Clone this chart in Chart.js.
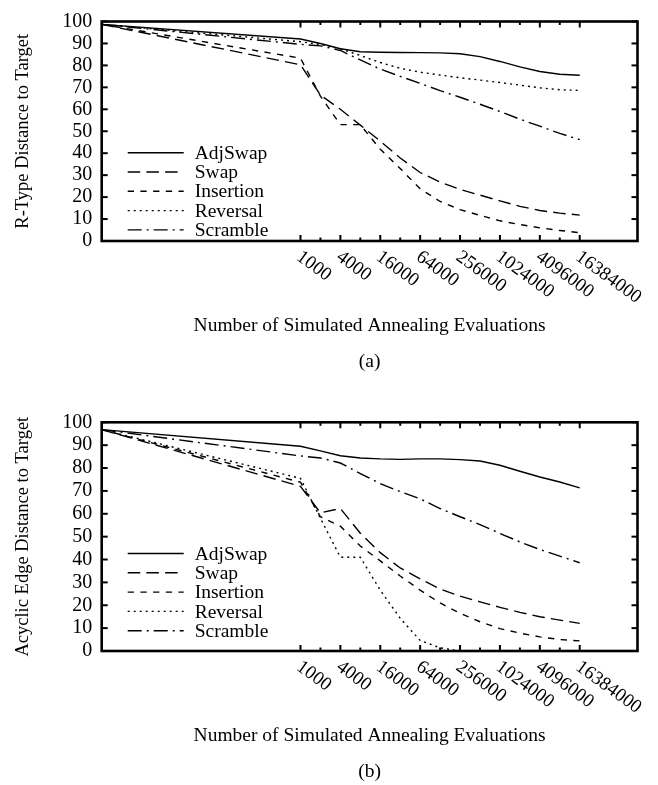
<!DOCTYPE html>
<html>
<head>
<meta charset="utf-8">
<script src="https://cdn.jsdelivr.net/npm/chart.js@4.4.1/dist/chart.umd.min.js"></script>
<style>
  html, body { margin: 0; padding: 0; background: #fff; }
  .panel { position: relative; width: 658px; }
  #panelA { height: 392px; }
  #panelB { height: 393px; }
</style>
</head>
<body>
<div class="panel" id="panelA"><canvas id="chartA"></canvas></div>
<div class="panel" id="panelB"><canvas id="chartB"></canvas></div>
<script>
const evaluations = [1, 1000, 2000, 4000, 8000, 16000, 32000, 64000, 128000, 256000, 512000, 1024000, 2048000, 4096000, 8192000, 16384000];
const xTickLabels = [1000, 4000, 16000, 64000, 256000, 1024000, 4096000, 16384000];
const xMinorTicks = [2000, 8000, 32000, 128000, 512000, 2048000, 8192000];
const yTicks = [0, 10, 20, 30, 40, 50, 60, 70, 80, 90, 100];
const operators = ['AdjSwap', 'Swap', 'Insertion', 'Reversal', 'Scramble'];

// (a) R-Type distance to target
const rtAdjSwap   = [98.7, 92.0, 90.0, 87.6, 86.2, 86.0, 85.9, 85.8, 85.7, 85.3, 84.0, 81.8, 79.3, 77.2, 76.0, 75.5];
const rtSwap      = [98.7, 80.3, 66.5, 60.0, 52.8, 45.5, 37.8, 31.2, 26.8, 23.5, 20.9, 18.3, 15.8, 13.9, 12.7, 11.8];
const rtInsertion = [98.7, 83.3, 66.0, 53.0, 53.0, 41.8, 33.0, 23.8, 18.0, 14.3, 11.7, 9.2, 7.5, 6.0, 4.8, 3.8];
const rtReversal  = [98.7, 90.8, 89.5, 87.6, 84.5, 81.3, 78.7, 76.9, 75.6, 74.4, 73.3, 72.2, 71.0, 69.8, 68.9, 68.6];
const rtScramble  = [98.7, 89.6, 88.9, 86.8, 82.5, 78.3, 75.0, 71.8, 68.5, 65.5, 62.3, 59.0, 55.5, 52.3, 49.0, 46.2];

// (b) Acyclic edge distance to target
const acAdjSwap   = [96.8, 89.5, 87.5, 85.4, 84.4, 84.0, 83.8, 84.0, 84.0, 83.7, 83.1, 81.2, 78.6, 76.1, 73.9, 71.3];
const acSwap      = [96.8, 72.0, 60.4, 62.3, 51.5, 43.0, 36.3, 31.5, 27.1, 24.0, 21.5, 19.1, 16.9, 15.0, 13.5, 12.1];
const acInsertion = [96.8, 73.8, 58.7, 54.6, 45.9, 39.4, 32.8, 26.6, 21.0, 16.5, 12.8, 9.8, 7.8, 6.2, 5.0, 4.4];
const acReversal  = [96.8, 75.5, 58.0, 41.0, 41.0, 26.6, 14.3, 4.6, 1.4, 0, 0, 0, 0, 0, 0, 0];
const acScramble  = [96.8, 85.3, 84.4, 82.2, 77.6, 73.2, 69.7, 66.5, 62.3, 58.7, 55.3, 51.4, 47.7, 44.4, 41.5, 38.6];

const dashes = {
    AdjSwap: [],
    Swap: [12.5, 6.2],
    Insertion: [6.3, 6.4],
    Reversal: [2, 4],
    Scramble: [14, 5, 2, 5]
};

const serif = '"Liberation Serif", "Times New Roman", serif';

// frame, inward ticks, rotated x labels, key and caption (gnuplot look)
const gnuplotFrame = {
    id: 'gnuplotFrame',
    afterDatasetsDraw(chart, args, opts) {
        const ctx = chart.ctx;
        const a = chart.chartArea;
        const x = chart.scales.x;
        const y = chart.scales.y;
        ctx.save();

        // key
        ctx.font = '19.5px ' + serif;
        ctx.fillStyle = '#000';
        ctx.textAlign = 'left';
        ctx.textBaseline = 'middle';
        chart.data.datasets.forEach((ds, i) => {
            const ly = a.top + 131.2 + i * 19.3;
            ctx.strokeStyle = '#000';
            ctx.lineWidth = ds.borderWidth;
            ctx.setLineDash(ds.borderDash);
            ctx.beginPath();
            ctx.moveTo(a.left + 26, ly);
            ctx.lineTo(a.left + 82, ly);
            ctx.stroke();
            ctx.fillText(ds.label, a.left + 93, ly + 1);
        });
        ctx.setLineDash([]);

        // ticks on all four sides
        const tick = (x1, y1, x2, y2) => {
            ctx.beginPath();
            ctx.moveTo(x1, y1);
            ctx.lineTo(x2, y2);
            ctx.stroke();
        };
        ctx.lineWidth = 2;
        xTickLabels.forEach(v => {
            const px = x.getPixelForValue(v);
            tick(px, a.bottom, px, a.bottom - 6);
            tick(px, a.top, px, a.top + 6);
        });
        xMinorTicks.forEach(v => {
            const px = x.getPixelForValue(v);
            tick(px, a.bottom, px, a.bottom - 3.5);
            tick(px, a.top, px, a.top + 3.5);
        });
        yTicks.forEach(v => {
            const py = y.getPixelForValue(v);
            tick(a.left, py, a.left + 6, py);
            tick(a.right, py, a.right - 6, py);
        });

        ctx.lineWidth = 2.6;
        ctx.strokeRect(a.left, a.top, a.right - a.left, a.bottom - a.top);

        // slanted x tick labels
        ctx.font = '19px ' + serif;
        ctx.textAlign = 'left';
        ctx.textBaseline = 'middle';
        xTickLabels.forEach(v => {
            const px = x.getPixelForValue(v);
            ctx.save();
            ctx.translate(px - 2, a.bottom + 14);
            ctx.rotate(36 * Math.PI / 180);
            ctx.fillText(String(v), 0, 0);
            ctx.restore();
        });

        // panel caption
        ctx.font = '19.5px ' + serif;
        ctx.textAlign = 'center';
        ctx.fillText(opts.caption, (a.left + a.right) / 2, a.bottom + 121);
        ctx.restore();
    }
};

function makePanel(canvasId, yTitle, caption, series, padding) {
    const datasets = operators.map((name, i) => ({
        label: name,
        data: evaluations.map((e, j) => ({ x: e, y: series[i][j] })),
        borderColor: '#000',
        borderWidth: 1.4,
        borderDash: dashes[name],
        pointRadius: 0,
        tension: 0,
        fill: false
    }));

    return new Chart(document.getElementById(canvasId).getContext('2d'), {
        type: 'line',
        data: { datasets: datasets },
        options: {
            responsive: true,
            maintainAspectRatio: false,
            animation: false,
            layout: { padding: padding },
            scales: {
                x: {
                    type: 'logarithmic',
                    min: 1,
                    max: 1.22e8,
                    grid: { display: false, drawTicks: false },
                    border: { display: false },
                    ticks: { display: false },
                    title: {
                        display: true,
                        text: 'Number of Simulated Annealing Evaluations',
                        color: '#000',
                        font: { family: serif, size: 19.5 },
                        padding: { top: 0, bottom: 3 }
                    },
                    afterFit: scale => { scale.height = 100; }
                },
                y: {
                    min: 0,
                    max: 100,
                    grid: { display: false, drawTicks: false },
                    border: { display: false },
                    ticks: {
                        stepSize: 10,
                        autoSkip: false,
                        color: '#000',
                        padding: 9.5,
                        font: { family: serif, size: 20 }
                    },
                    title: {
                        display: true,
                        text: yTitle,
                        color: '#000',
                        font: { family: serif, size: 18.5 },
                        padding: { top: 12, bottom: 0 }
                    },
                    afterFit: scale => { scale.width = 101.7; }
                }
            },
            plugins: {
                legend: { display: false },
                tooltip: { enabled: false },
                gnuplotFrame: { caption: caption }
            }
        },
        plugins: [gnuplotFrame]
    });
}

makePanel('chartA', 'R-Type Distance to Target', '(a)',
    [rtAdjSwap, rtSwap, rtInsertion, rtReversal, rtScramble],
    { top: 13.3, right: 20.5, bottom: 51, left: 0 });

makePanel('chartB', 'Acyclic Edge Distance to Target', '(b)',
    [acAdjSwap, acSwap, acInsertion, acReversal, acScramble],
    { top: 30.3, right: 20.5, bottom: 34, left: 0 });
</script>
</body>
</html>
